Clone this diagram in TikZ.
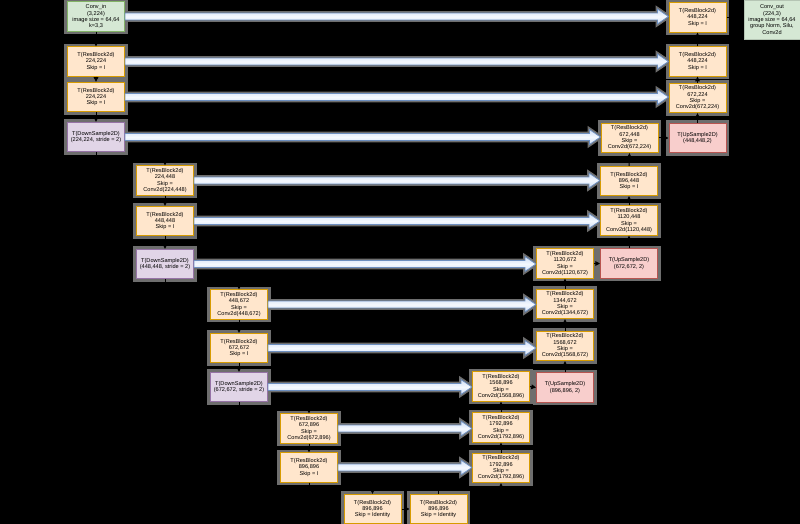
\documentclass[tikz,border=0pt]{standalone}
\usepackage{fontspec}
\setmainfont{Liberation Sans}
\usetikzlibrary{arrows.meta,calc}
\definecolor{rbfill}{HTML}{FFE6CC}
\definecolor{rbdraw}{HTML}{D79B00}
\definecolor{dsfill}{HTML}{E1D5E7}
\definecolor{dsdraw}{HTML}{9673A6}
\definecolor{usfill}{HTML}{F8CECC}
\definecolor{usdraw}{HTML}{B85450}
\definecolor{cvfill}{HTML}{D5E8D4}
\definecolor{cvdraw}{HTML}{82B366}
\definecolor{halocol}{HTML}{6E6E6E}
\definecolor{arrdraw}{HTML}{6C8EBF}
\definecolor{arrlight}{HTML}{D0DFF6}
\definecolor{arrmid}{HTML}{F4F8FE}
\pgfdeclarelayer{back}
\pgfdeclarelayer{bg}
\pgfsetlayers{back,bg,main}
\tikzset{
  box/.style={draw, line width=0.75pt, minimum width=42.75pt, minimum height=22pt,
    inner sep=0pt, align=center, text=black, font=\fontsize{4.2}{4.75}\selectfont},
  rb/.style={box, fill=rbfill, draw=rbdraw},
  ds/.style={box, fill=dsfill, draw=dsdraw},
  us/.style={box, fill=usfill, draw=usdraw},
  cv/.style={box, fill=cvfill, draw=cvdraw},
  halo/.style={fill=halocol, draw=halocol, line width=4pt},
  arrhalo/.style={fill=halocol, draw=halocol, line width=3pt, line join=miter},
  flexa/.style={draw=arrdraw, line width=0.6pt, top color=arrlight, bottom color=arrlight, middle color=arrmid},
  conn/.style={draw=black, line width=0.75pt, -{Triangle[length=3.5pt,width=3.5pt]}}
}
\newcommand\flexarr[2]{%
  \begin{pgfonlayer}{bg}
  \path[arrhalo] let \p1=(#1.east), \p2=(#2.west) in
    (\x1,\y1+2.6pt) -- (\x2-8.25pt,\y1+2.6pt) -- (\x2-8.25pt,\y1+5.6pt) -- (\x2,\y1)
    -- (\x2-8.25pt,\y1-5.6pt) -- (\x2-8.25pt,\y1-2.6pt) -- (\x1,\y1-2.6pt) -- cycle;
  \end{pgfonlayer}
  \path[flexa] let \p1=(#1.east), \p2=(#2.west) in
    (\x1,\y1+2.6pt) -- (\x2-8.25pt,\y1+2.6pt) -- (\x2-8.25pt,\y1+5.6pt) -- (\x2,\y1)
    -- (\x2-8.25pt,\y1-5.6pt) -- (\x2-8.25pt,\y1-2.6pt) -- (\x1,\y1-2.6pt) -- cycle;
}
\begin{document}
\begin{tikzpicture}[x=0.75pt,y=-0.75pt]
\useasboundingbox (0,0) rectangle (800,524);
\begin{pgfonlayer}{back}
\fill[black] (0,0) rectangle (800,524);
\end{pgfonlayer}

% encoder
\node[cv] (cin) at (96,16.5) {Conv\_in\\(3,224)\\image size = 64,64\\k=3,3};
\node[rb] (r1) at (96,61.5) {T(ResBlock2d)\\224,224\\Skip = I};
\node[rb] (r2) at (96,97) {T(ResBlock2d)\\224,224\\Skip = I};
\node[ds] (d1) at (96,137) {T(DownSample2D)\\(224,224, stride = 2)};
\node[rb] (r3) at (165,180.5) {T(ResBlock2d)\\224,448\\Skip =\\Conv2d(224,448)};
\node[rb] (r4) at (165,221) {T(ResBlock2d)\\448,448\\Skip = I};
\node[ds] (d2) at (165,264) {T(DownSample2D)\\(448,448, stride = 2)};
\node[rb] (r5) at (239,304.5) {T(ResBlock2d)\\448,672\\Skip =\\Conv2d(448,672)};
\node[rb] (r6) at (239,348) {T(ResBlock2d)\\672,672\\Skip = I};
\node[ds] (d3) at (239,387) {T(DownSample2D)\\(672,672, stride = 2)};
\node[rb] (r7) at (309,428.5) {T(ResBlock2d)\\672,896\\Skip =\\Conv2d(672,896)};
\node[rb] (r8) at (309,467.5) {T(ResBlock2d)\\896,896\\Skip = I};
% bottleneck
\node[rb] (b1) at (372.5,509) {T(ResBlock2d)\\896,896\\Skip = Identity};
\node[rb] (b2) at (438.5,509) {T(ResBlock2d)\\896,896\\Skip = Identity};
% decoder
\node[rb] (u3) at (501,468) {T(ResBlock2d)\\1792,896\\Skip =\\Conv2d(1792,896)};
\node[rb] (u2) at (501,427.5) {T(ResBlock2d)\\1792,896\\Skip =\\Conv2d(1792,896)};
\node[rb] (u1) at (501,386.5) {T(ResBlock2d)\\1568,896\\Skip =\\Conv2d(1568,896)};
\node[us] (up1) at (565,387.5) {T(UpSample2D)\\(896,896, 2)};
\node[rb] (u4) at (565,346) {T(ResBlock2d)\\1568,672\\Skip =\\Conv2d(1568,672)};
\node[rb] (u5) at (565,304) {T(ResBlock2d)\\1344,672\\Skip =\\Conv2d(1344,672)};
\node[rb] (u6) at (565,263.5) {T(ResBlock2d)\\1120,672\\Skip =\\Conv2d(1120,672)};
\node[us] (up2) at (629,263.5) {T(UpSample2D)\\(672,672, 2)};
\node[rb] (u7) at (629,220.5) {T(ResBlock2d)\\1120,448\\Skip =\\Conv2d(1120,448)};
\node[rb] (u8) at (629,181) {T(ResBlock2d)\\896,448\\Skip = I};
\node[rb] (u9) at (629.5,138) {T(ResBlock2d)\\672,448\\Skip =\\Conv2d(672,224)};
\node[us] (up3) at (697.5,138) {T(UpSample2D)\\(448,448,2)};
\node[rb] (u10) at (697.5,98) {T(ResBlock2d)\\672,224\\Skip =\\Conv2d(672,224)};
\node[rb] (u11) at (697.5,61.5) {T(ResBlock2d)\\448,224\\Skip = I};
\node[rb] (u12) at (697.5,17.5) {T(ResBlock2d)\\448,224\\Skip = I};
\node[cv, draw=cvfill!85!black, line width=0.4pt, minimum width=42pt, minimum height=29pt] (cout) at (772,19.5) {Conv\_out\\(224,3)\\image size = 64,64\\group Norm, Silu,\\Conv2d};

% halos
\begin{pgfonlayer}{bg}
\foreach \n in {cin,r1,r2,d1,r3,r4,d2,r5,r6,d3,r7,r8,b1,b2,u1,u2,u3,up1,u4,u5,u6,up2,u7,u8,u9,up3,u10,u11,u12}
  {\path[halo] (\n.north west) rectangle (\n.south east);}
\end{pgfonlayer}

% skip arrows
\flexarr{cin}{u12}
\flexarr{r1}{u11}
\flexarr{r2}{u10}
\flexarr{d1}{u9}
\flexarr{r3}{u8}
\flexarr{r4}{u7}
\flexarr{d2}{u6}
\flexarr{r5}{u5}
\flexarr{r6}{u4}
\flexarr{d3}{u1}
\flexarr{r7}{u2}
\flexarr{r8}{u3}

% connectors
\draw[conn] (cin.south) -- (r1.north);
\draw[conn] (r1.south) -- (r2.north);
\draw[conn] (r2.south) -- (d1.north);
\draw[conn] (d1.south) -- ++(0,6.5) -| (r3.north);
\draw[conn] (r3.south) -- (r4.north);
\draw[conn] (r4.south) -- (d2.north);
\draw[conn] (d2.south) -- ++(0,5) -| (r5.north);
\draw[conn] (r5.south) -- (r6.north);
\draw[conn] (r6.south) -- (d3.north);
\draw[conn] (d3.south) -- ++(0,6) -| (r7.north);
\draw[conn] (r7.south) -- (r8.north);
\draw[conn] (r8.south) -- ++(0,6) -| (b1.north);
\draw[conn] (b1.east) -- (b2.west);
\draw[conn] (b2.north) -- ++(0,-5.5) -| (u3.south);
\draw[conn] (u3.north) -- (u2.south);
\draw[conn] (u2.north) -- (u1.south);
\draw[conn] (u1.east) -- (up1.west);
\draw[conn] (up1.north) -- (u4.south);
\draw[conn] (u4.north) -- (u5.south);
\draw[conn] (u5.north) -- (u6.south);
\draw[conn] (u6.east) -- (up2.west);
\draw[conn] (up2.north) -- (u7.south);
\draw[conn] (u7.north) -- (u8.south);
\draw[conn] (u8.north) -- (u9.south);
\draw[conn] (u9.east) -- (up3.west);
\draw[conn] (up3.north) -- (u10.south);
\draw[conn] (u10.north) -- (u11.south);
\draw[conn] (u11.north) -- (u12.south);
\draw[conn] (u12.east) -- (u12.east -| cout.west);
\end{tikzpicture}
\end{document}
